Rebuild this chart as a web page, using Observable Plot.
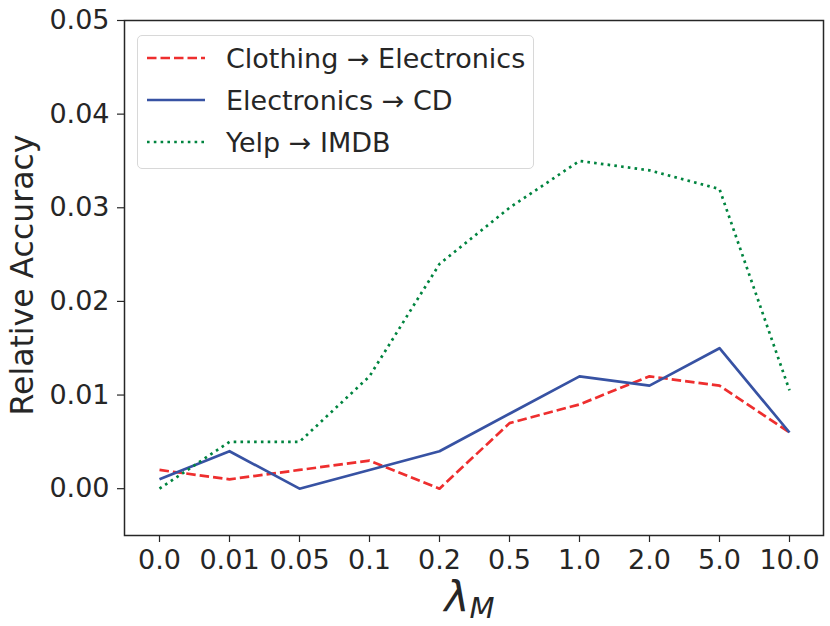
<!DOCTYPE html>
<html><head><meta charset="utf-8">
<script src="https://cdn.jsdelivr.net/npm/d3@7"></script>
<script src="https://cdn.jsdelivr.net/npm/@observablehq/plot@0.6"></script>
<style>
body{margin:0;background:#fff;font-family:"DejaVu Sans",sans-serif;}
#wrap{position:relative;width:830px;height:626px;}
.legend{position:absolute;left:137px;top:35px;width:397px;height:134px;border:1.5px solid #d8d8d8;border-radius:5px;background:rgba(255,255,255,0.85);box-sizing:border-box;}
.row{position:absolute;left:0;height:40px;display:flex;align-items:center;font-size:27px;color:#262626;white-space:nowrap;}
.row svg{margin-left:9px;margin-right:21px;}
</style>
</head><body>
<div id="wrap"></div>
<script>
const lambdas = ["0.0","0.01","0.05","0.1","0.2","0.5","1.0","2.0","5.0","10.0"];
const seriesNames = ["Clothing → Electronics","Electronics → CD","Yelp → IMDB"];
const clothing = [0.002,0.001,0.002,0.003,0.000,0.007,0.009,0.012,0.011,0.006];
const electronics = [0.001,0.004,0.000,0.002,0.004,0.008,0.012,0.011,0.015,0.006];
const yelp = [0.000,0.005,0.005,0.012,0.024,0.030,0.035,0.034,0.032,0.0105];
const yTicks = [0.00,0.01,0.02,0.03,0.04,0.05];
const colors = ["#ee2e2e","#3752a3","#00843f"];
const dashes = ["9.5,4", "none", "2.6,4.2"];

const allSeries = [clothing, electronics, yelp];
const data = allSeries.flatMap((vals, si) => vals.map((v, i) => ({series: seriesNames[si], lambda: lambdas[i], value: v})));

const lineMarks = seriesNames.map((name, si) =>
  Plot.line(data.filter(d => d.series === name), {
    x: "lambda", y: "value", stroke: colors[si], strokeWidth: 2.7,
    strokeDasharray: dashes[si], strokeLinecap: "butt", strokeLinejoin: "round"
  })
);

const plot = Plot.plot({
  width: 830, height: 626,
  marginLeft: 124, marginRight: 7, marginTop: 20, marginBottom: 91,
  x: {type: "point", domain: lambdas, padding: 0.45},
  y: {domain: [-0.005, 0.05]},
  style: {fontFamily: "DejaVu Sans", color: "#262626", background: "white", overflow: "visible"},
  marks: [
    Plot.axisX({tickSize: 7, tickPadding: 7, fontSize: 27, label: null, stroke: "#262626", strokeWidth: 1.2}),
    Plot.axisY({ticks: yTicks, tickFormat: ".2f", tickSize: 7, tickPadding: 8, fontSize: 27, label: null, stroke: "#262626", strokeWidth: 1.2}),
    ...lineMarks,
    Plot.frame({stroke: "#262626", strokeWidth: 1.5}),
    Plot.text(["Relative Accuracy"], {frameAnchor: "left", textAnchor: "middle", rotate: -90, dx: -102, dy: -3, fontSize: 31.5, fill: "#262626"})
  ]
});

const wrap = document.getElementById("wrap");
wrap.appendChild(plot);

// x-axis label with italic lambda and subscript M, centred on the plot frame
const cx = (124 + (830 - 7)) / 2;
const lbl = d3.select(plot).append("text")
  .attr("x", cx - 4).attr("y", 612)
  .attr("text-anchor", "middle")
  .attr("fill", "#262626")
  .style("font-family", "DejaVu Sans")
  .style("font-style", "italic");
lbl.append("tspan").attr("font-size", 42).text("λ");
lbl.append("tspan").attr("font-size", 29).attr("dy", 6).text("M");

// legend
const legend = document.createElement("div");
legend.className = "legend";
const rowTops = [2, 44, 86];
seriesNames.forEach((name, si) => {
  const row = document.createElement("div");
  row.className = "row";
  row.style.top = rowTops[si] + "px";
  row.innerHTML = `<svg width="58" height="10"><line x1="0" y1="5" x2="58" y2="5" stroke="${colors[si]}" stroke-width="2.7" stroke-dasharray="${dashes[si]}"/></svg><span>${name}</span>`;
  legend.appendChild(row);
});
wrap.appendChild(legend);
</script>
</body></html>
